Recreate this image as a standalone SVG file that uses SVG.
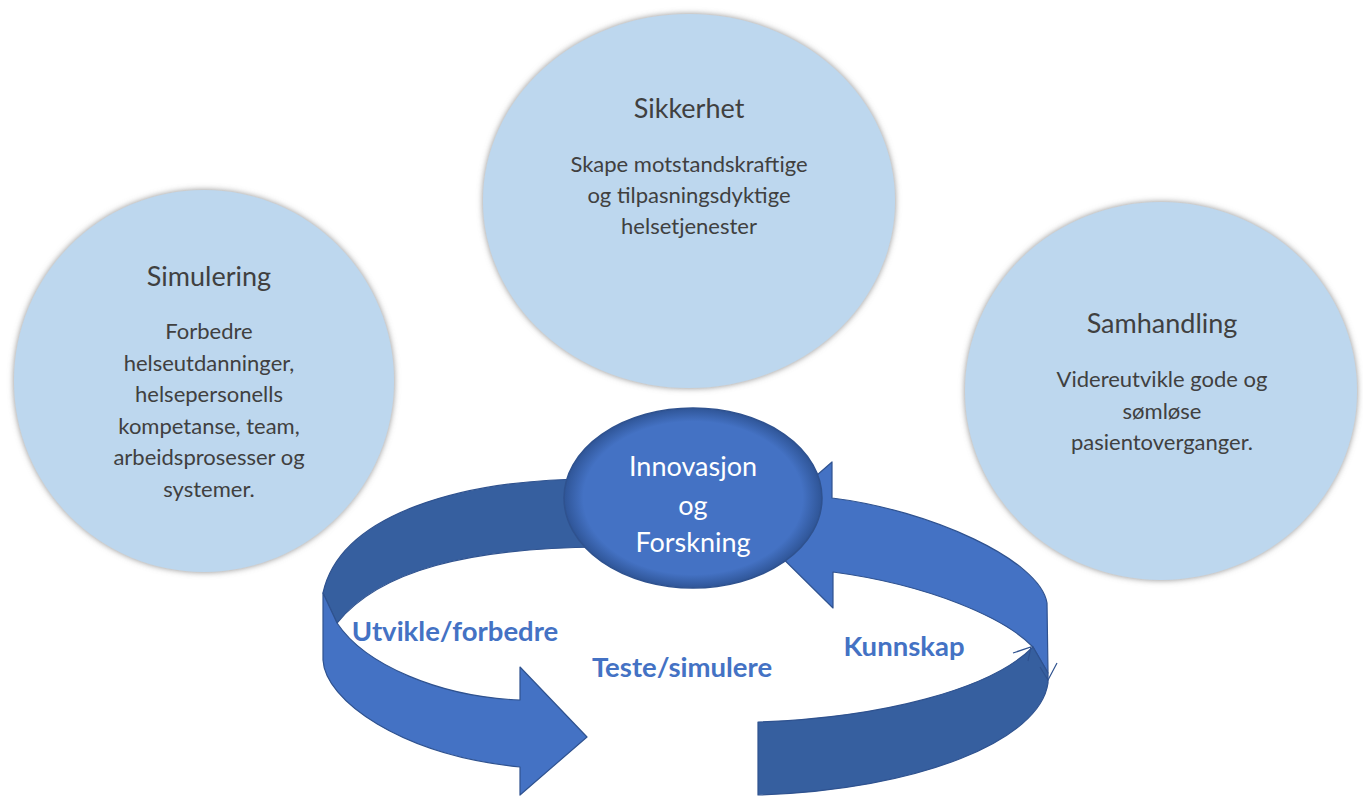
<svg xmlns="http://www.w3.org/2000/svg" width="1363" height="798" viewBox="0 0 1363 798">
<defs>
<filter id="soft" x="-10%" y="-10%" width="120%" height="120%">
<feDropShadow dx="0" dy="0" stdDeviation="3" flood-color="#7f7f7f" flood-opacity="0.9"/>
</filter>
<radialGradient id="ig" cx="50%" cy="50%" r="50%">
<stop offset="0" stop-color="#4472C4"/>
<stop offset="0.85" stop-color="#4472C4"/>
<stop offset="1" stop-color="#2F5597"/>
</radialGradient>
<style>
.bub{fill:#BDD7EE;filter:url(#soft)}
.t{font-family:Lato,"Open Sans","Liberation Sans",sans-serif;fill:#404040;text-anchor:middle}
.h{font-size:27px}
.b{font-size:22px}
.w{font-family:Lato,"Open Sans","Liberation Sans",sans-serif;fill:#ffffff;text-anchor:middle;font-size:27px}
.lbl{font-family:Lato,"Open Sans","Liberation Sans",sans-serif;fill:#4472C4;font-weight:bold;font-size:27.5px;text-anchor:middle}
.lt{fill:#4472C4;stroke:#2F528F;stroke-width:1.2;stroke-linejoin:round}
.dk{fill:#365F9F;stroke:#2F528F;stroke-width:1.2;stroke-linejoin:round}
.tick{fill:none;stroke:#2F528F;stroke-width:1.2}
</style>
</defs>
<g id="sikkerhet">
<ellipse class="bub" cx="689" cy="201" rx="206" ry="187"/>
<text class="t h" x="689" y="118">Sikkerhet</text>
<text class="t b" x="689" y="172">Skape motstandskraftige</text>
<text class="t b" x="689" y="203">og tilpasningsdyktige</text>
<text class="t b" x="689" y="234">helsetjenester</text>
</g>
<g id="simulering">
<ellipse class="bub" cx="204" cy="381" rx="190" ry="191"/>
<text class="t h" x="209" y="286">Simulering</text>
<text class="t b" x="209" y="339">Forbedre</text>
<text class="t b" x="209" y="371">helseutdanninger,</text>
<text class="t b" x="209" y="402">helsepersonells</text>
<text class="t b" x="209" y="434">kompetanse, team,</text>
<text class="t b" x="209" y="465">arbeidsprosesser og</text>
<text class="t b" x="209" y="497">systemer.</text>
</g>
<g id="samhandling">
<ellipse class="bub" cx="1161" cy="391" rx="196" ry="189"/>
<text class="t h" x="1162" y="333">Samhandling</text>
<text class="t b" x="1162" y="387">Videreutvikle gode og</text>
<text class="t b" x="1162" y="419">sømløse</text>
<text class="t b" x="1162" y="450">pasientoverganger.</text>
</g>
<g id="connectors">
<g id="arrow-left">
<path class="dk" d="M600,479 C 460,478 340,515 323,593 L337,623 C 380,570 470,548 600,547 Z"/>
<path class="lt" d="M323,593 L337,623 C 365,665 440,697 520,700 L520,667 L587,737 L520,795 L520,767 C 400,755 325,700 323,660 Z"/>
</g>
<g id="arrow-right">
<path class="lt" d="M832,498 C 930,510 1040,560 1047,603 L1048,673 L1033,647 C 1005,618 930,585 833,572 L833,608 L754,530 L832,462 Z"/>
<path class="dk" d="M1033,647 L1048,673 L1048,683 C 1040,740 920,790 758,795 L758,722 C 880,718 990,690 1033,647 Z"/>
<path class="tick" d="M1013,653 L1031,647 L1028,661 M1057,663 L1048,680 L1040,667"/>
</g>
</g>
<g id="innovasjon">
<ellipse cx="693" cy="498" rx="129" ry="90" fill="url(#ig)" stroke="#2F528F" stroke-width="1.5"/>
<text class="w" x="693" y="476">Innovasjon</text>
<text class="w" x="693" y="515">og</text>
<text class="w" x="693" y="552">Forskning</text>
</g>
<g id="labels">
<text class="lbl" x="455" y="641">Utvikle/forbedre</text>
<text class="lbl" x="682" y="677">Teste/simulere</text>
<text class="lbl" x="904" y="656">Kunnskap</text>
</g>
</svg>
